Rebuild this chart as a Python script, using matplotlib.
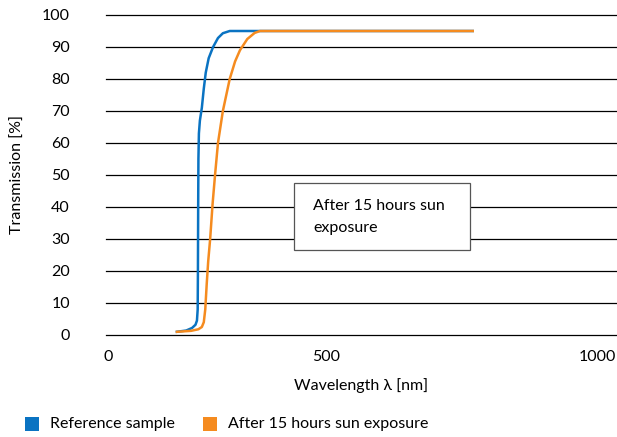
import matplotlib
matplotlib.use("Agg")
import matplotlib.pyplot as plt
from matplotlib.patches import Rectangle

plt.rcParams['font.family'] = ['Lato', 'DejaVu Sans']

# wavelength [nm] and transmission [%]
ref_wl = [141, 160, 172, 179, 182, 183.5, 184, 184.5, 185, 186, 188, 192, 196, 200, 206, 215, 225, 235, 249, 300, 746]
ref_tr = [1, 1.4, 2.2, 3.2, 4.5, 8, 20, 40, 55, 63, 67, 71, 77, 82, 86.5, 90, 92.8, 94.3, 95, 95, 95]

sun_wl = [141, 170, 185, 192, 196, 199, 202, 205, 209, 214, 219, 225, 235, 249, 260, 270, 285, 300, 311, 746]
sun_tr = [1, 1.3, 1.8, 2.5, 4, 8, 16, 23, 30, 41, 50, 60, 70, 80, 85.5, 89, 92.5, 94.4, 95, 95]

x_ticks = [0, 446, 1000]
x_labels = ['0', '500', '1000']
y_ticks = list(range(0, 101, 10))
series_names = ['Reference sample', 'After 15 hours sun exposure']

blue = '#0a73c2'
orange = '#f58b1f'
fs = 11.5

W, H = 617, 437
fig = plt.figure(figsize=(W / 100, H / 100), dpi=100)
ax = fig.add_axes([106 / W, 1 - 335 / H, 510 / W, 320 / H])

ax.set_xlim(-4, 1039)
ax.set_ylim(0, 100)
for y in y_ticks:
    ax.axhline(y, color='black', lw=0.9, clip_on=False, zorder=1)

ax.plot(ref_wl, ref_tr, color=blue, lw=1.8, zorder=3)
ax.plot(sun_wl, sun_tr, color=orange, lw=1.8, zorder=4)

for s in ax.spines.values():
    s.set_visible(False)
ax.set_yticks(y_ticks)
ax.set_xticks(x_ticks, x_labels)
ax.tick_params(length=0, labelsize=fs, colors='black')
ax.tick_params(axis='y', pad=26)
ax.tick_params(axis='x', pad=11)
ax.set_xlabel('Wavelength λ [nm]', fontsize=fs, labelpad=10)
ax.set_ylabel('Transmission [%]', fontsize=fs, labelpad=12)

# annotation box
fig.add_artist(Rectangle((294 / W, 1 - 250 / H), 176 / W, 67 / H,
                         transform=fig.transFigure, facecolor='white',
                         edgecolor='#555555', lw=0.9, zorder=5))
fig.text(313 / W, 1 - 217 / H, 'After 15 hours sun\nexposure', fontsize=fs,
         va='center', ha='left', linespacing=1.7, zorder=6)

# legend drawn by hand
for x0, col, name in [(25, blue, series_names[0]), (203, orange, series_names[1])]:
    fig.add_artist(Rectangle((x0 / W, 1 - 431 / H), 14 / W, 14 / H,
                             transform=fig.transFigure, facecolor=col, edgecolor='none'))
    fig.text((x0 + 25) / W, 1 - 424 / H, name, fontsize=fs, va='center', ha='left')

fig.savefig('out.png', dpi=100)
